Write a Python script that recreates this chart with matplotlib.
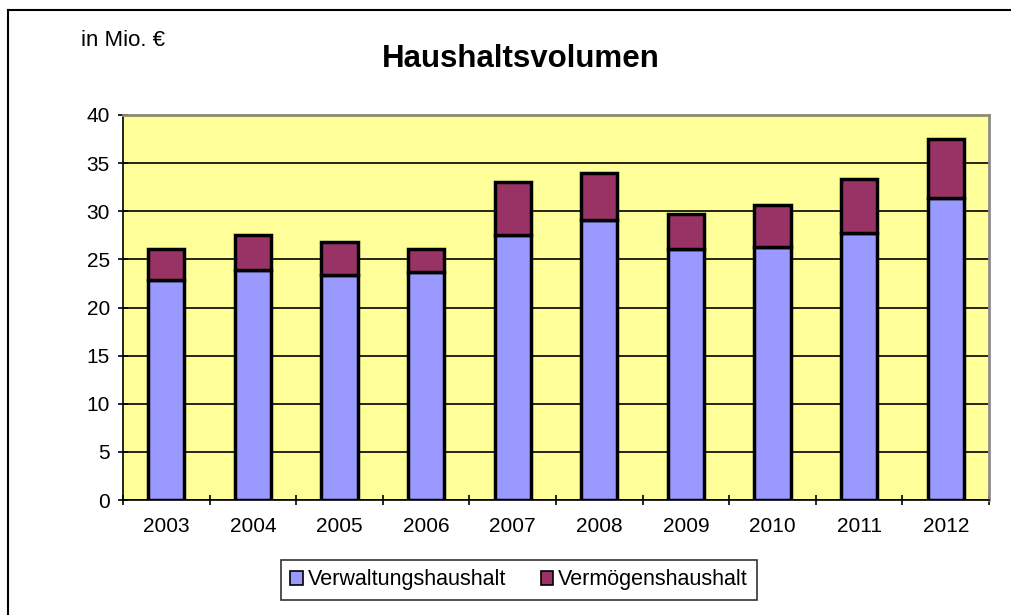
import matplotlib.pyplot as plt
import numpy as np
from matplotlib.lines import Line2D

plt.rcParams['font.family'] = ['Liberation Sans', 'DejaVu Sans']

# Daten (in Mio. €)
jahre = ['2003', '2004', '2005', '2006', '2007', '2008', '2009', '2010', '2011', '2012']
verwaltung = [22.9, 23.85, 23.4, 23.7, 27.5, 29.05, 26.1, 26.3, 27.7, 31.4]
vermoegen = [3.2, 3.65, 3.4, 2.4, 5.5, 4.95, 3.6, 4.4, 5.6, 6.1]

fig = plt.figure(figsize=(10.11, 6.15), dpi=100)
ax = fig.add_axes([123 / 1011, 1 - 500 / 615, 866 / 1011, 385 / 615])

x = np.arange(len(jahre))
b1 = ax.bar(x, verwaltung, width=0.42, color='#9999FF', edgecolor='black', linewidth=2.5,
            label='Verwaltungshaushalt', zorder=3)
b2 = ax.bar(x, vermoegen, width=0.42, bottom=verwaltung, color='#993366', edgecolor='black',
            linewidth=2.5, label='Vermögenshaushalt', zorder=3)

ax.set_facecolor('#FFFF99')
ax.set_xlim(-0.5, len(jahre) - 0.5)
ax.set_ylim(0, 40)
ax.set_yticks(range(0, 41, 5))
ax.yaxis.grid(True, color='black', linewidth=1.2, zorder=1)
ax.set_xticks(x)
ax.set_xticklabels(jahre)
ax.set_xticks(np.arange(-0.5, len(jahre)), minor=True)
ax.tick_params(axis='x', which='major', length=0, pad=12, labelsize=15)
ax.tick_params(axis='x', which='minor', length=7, width=1.2, color='black', direction='inout')
ax.tick_params(axis='y', length=7, width=1.2, direction='inout', labelsize=15, pad=6)

ax.spines['left'].set_color('black')
ax.spines['left'].set_linewidth(1.2)
ax.spines['bottom'].set_color('black')
ax.spines['bottom'].set_linewidth(1.2)
ax.spines['top'].set_color('#8c8c6e')
ax.spines['top'].set_linewidth(2)
ax.spines['right'].set_color('#8c8c8c')
ax.spines['right'].set_linewidth(2)

fig.text(521 / 1011, 1 - 59 / 615, 'Haushaltsvolumen', ha='center', va='center',
         fontsize=22.5, fontweight='bold')
fig.text(81 / 1011, 1 - 40 / 615, 'in Mio. €', ha='left', va='center', fontsize=16)

leg = fig.legend(handles=[b1, b2], loc='center', bbox_to_anchor=(519 / 1011, 1 - 580 / 615),
                 ncol=2, frameon=True, fancybox=False, edgecolor='black', fontsize=15.5,
                 handlelength=0.6, handleheight=0.6, handletextpad=0.2, columnspacing=1.6,
                 borderpad=0.45)
leg.get_frame().set_linewidth(1.2)
for h in leg.legend_handles:
    h.set_linewidth(1.2)

# Rahmen um das Diagramm
fig.add_artist(Line2D([7.5 / 1011, 7.5 / 1011], [0, 1 - 9.5 / 615], color='black', linewidth=1.5,
                      transform=fig.transFigure))
fig.add_artist(Line2D([7.5 / 1011, 1], [1 - 9.5 / 615, 1 - 9.5 / 615], color='black', linewidth=1.5,
                      transform=fig.transFigure))

plt.savefig('out.png', dpi=100)
